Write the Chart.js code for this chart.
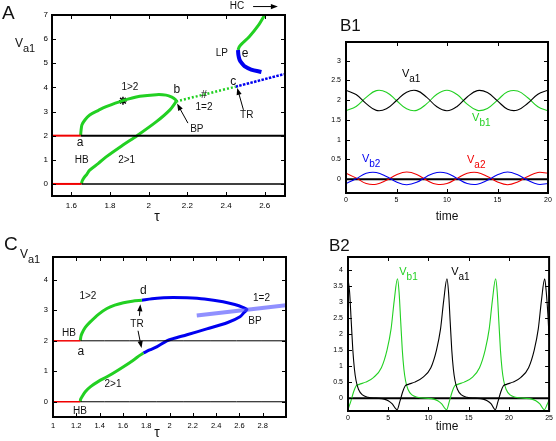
<!DOCTYPE html>
<html>
<head>
<meta charset="utf-8">
<script src="https://cdn.jsdelivr.net/npm/chart.js@4.4.1/dist/chart.umd.min.js"></script>
<style>
  body { margin: 0; background: #fff; }
  canvas { position: absolute; left: 0; top: 0; }
</style>
</head>
<body>
<canvas id="chartA" width="556" height="441"></canvas>
<canvas id="chartB1" width="556" height="441"></canvas>
<canvas id="chartC" width="556" height="441"></canvas>
<canvas id="chartB2" width="556" height="441"></canvas>
<script>
// ---- panel A : V_a1 vs tau ----
const aTicksX = [1.6, 1.8, 2, 2.2, 2.4, 2.6];
const aTicksY = [0, 1, 2, 3, 4, 5, 6, 7];
const aRedTop = [[1.5, 2], [1.648, 2]];
const aRedBottom = [[1.5, 0], [1.652, 0]];
const aBlackTop = [[1.648, 2], [2.7, 2]];
const aBlackBottom = [[1.652, 0], [2.7, 0]];
const aUpper = [[1.648, 2.0], [1.65, 2.2], [1.655, 2.45], [1.67, 2.65], [1.695, 2.86], [1.74, 3.05], [1.78, 3.2],
  [1.867, 3.45], [1.954, 3.63], [2.04, 3.70], [2.09, 3.68], [2.12, 3.6], [2.138, 3.5], [2.143, 3.42]];
const aLower = [[1.652, 0], [1.656, 0.12], [1.665, 0.25], [1.68, 0.4], [1.695, 0.57], [1.74, 0.85], [1.78, 1.12],
  [1.867, 1.61], [1.94, 2.0], [2.04, 2.58], [2.11, 3.07], [2.143, 3.42]];
const aSymDotted = [[2.143, 3.42], [2.45, 4.03]];
const aSymUnstable = [[2.45, 4.03], [2.7, 4.55]];
const aLPBlue = [[2.462, 5.55], [2.464, 5.35], [2.47, 5.15], [2.482, 5.0], [2.495, 4.88], [2.53, 4.74], [2.583, 4.64]];
const aLPGreen = [[2.462, 5.55], [2.47, 5.7], [2.487, 5.85], [2.52, 6.1], [2.57, 6.6], [2.6, 7.0]];
const aStar = [[1.867, 3.45]];

// ---- panel B1 : time series ----
const b1Time = [0, 1, 2, 3, 4, 5, 6, 7, 8, 9, 10, 11, 12, 13, 14, 15, 16, 17, 18, 19, 20];
const b1Va1 = [2.25, 2.14, 1.91, 1.74, 1.78, 1.99, 2.20, 2.24, 2.07, 1.83, 1.73, 1.84, 2.08, 2.24, 2.19, 1.98, 1.77, 1.75, 1.92, 2.15, 2.25];
const b1Vb1 = [1.73, 1.84, 2.07, 2.24, 2.20, 1.99, 1.78, 1.74, 1.91, 2.15, 2.25, 2.14, 1.90, 1.74, 1.79, 2.00, 2.21, 2.23, 2.06, 1.83, 1.73];
const b1Vb2 = [-0.11, 0.01, 0.15, 0.17, 0.07, -0.07, -0.14, -0.08, 0.07, 0.17, 0.15, 0.02, -0.11, -0.13, -0.03, 0.11, 0.18, 0.11, -0.03, -0.13, -0.11];
const b1Va2 = [0.15, 0.03, -0.11, -0.13, -0.03, 0.11, 0.18, 0.12, -0.03, -0.13, -0.11, 0.02, 0.15, 0.17, 0.07, -0.07, -0.14, -0.07, 0.07, 0.17, 0.15];
const b1TicksX = [0, 5, 10, 15, 20];
const b1TicksY = [0, 0.5, 1, 1.5, 2, 2.5, 3];

// ---- panel C : V_a1 vs tau ----
const cTicksX = [1, 1.2, 1.4, 1.6, 1.8, 2, 2.2, 2.4, 2.6, 2.8];
const cTicksY = [0, 1, 2, 3, 4];
const cRedTop = [[1, 2], [1.234, 2]];
const cRedBottom = [[1, 0], [1.234, 0]];
const cBlackTop = [[1.234, 2], [3, 2]];
const cBlackBottom = [[1.234, 0], [3, 0]];
const cUpperGreen = [[1.234, 2.0], [1.24, 2.15], [1.248, 2.24], [1.277, 2.44], [1.32, 2.62], [1.39, 2.87], [1.463, 3.06],
  [1.53, 3.17], [1.605, 3.25], [1.68, 3.3], [1.763, 3.33]];
const cLowerGreen = [[1.234, 0], [1.237, 0.08], [1.248, 0.16], [1.277, 0.33], [1.32, 0.49], [1.39, 0.67], [1.463, 0.82],
  [1.53, 0.97], [1.605, 1.15], [1.68, 1.34], [1.748, 1.53], [1.776, 1.6]];
const cBlueLoop = [[1.763, 3.33], [1.85, 3.38], [1.95, 3.41], [2.03, 3.42], [2.15, 3.41], [2.3, 3.37], [2.46, 3.28],
  [2.56, 3.19], [2.63, 3.1], [2.665, 3.03], [2.64, 2.93], [2.605, 2.79], [2.5, 2.6], [2.32, 2.39], [2.15, 2.2],
  [2.03, 2.07], [1.977, 2.0], [1.89, 1.8], [1.83, 1.7], [1.776, 1.6]];
const cSymBranch = [[2.234, 2.83], [2.665, 3.02], [3.0, 3.17]];

// ---- panel B2 : time series ----
const b2TimeA = [0, 0.2, 0.4, 0.6, 0.8, 1.0, 1.3, 1.8, 2.5, 3.5, 4.5, 5.0, 5.5, 6.1, 6.45, 6.8, 7.1, 7.5, 8.3, 9.3, 10.3,
  11.0, 11.5, 11.9, 12.3, 12.5, 12.7, 12.9, 13.1, 13.3, 13.6, 14.1, 14.8, 15.8, 16.8, 17.3, 17.8, 18.3, 18.65, 19.0,
  19.3, 19.7, 20.5, 21.5, 22.45, 23.15, 23.65, 24.05, 24.45, 24.65, 24.85, 25];
const b2Va1 = [3.72, 3.3, 2.4, 1.5, 0.9, 0.55, 0.28, 0.1, 0.03, 0.0, -0.03, -0.08, -0.18, -0.36, -0.1, 0.2, 0.38, 0.43, 0.5, 0.65, 0.95,
  1.5, 2.15, 3.05, 3.72, 3.3, 2.4, 1.5, 0.9, 0.55, 0.28, 0.1, 0.03, 0.0, -0.03, -0.08, -0.18, -0.36, -0.1, 0.2,
  0.38, 0.43, 0.5, 0.65, 0.95, 1.5, 2.15, 3.05, 3.72, 3.3, 2.6, 1.9];
const b2TimeB = [0, 0.35, 0.7, 1.0, 1.4, 2.2, 3.2, 4.15, 4.85, 5.35, 5.75, 6.15, 6.35, 6.55, 6.75, 6.95, 7.15, 7.45, 7.95,
  8.65, 9.65, 10.65, 11.15, 11.65, 12.25, 12.6, 12.95, 13.25, 13.65, 14.45, 15.45, 16.35, 17.05, 17.55, 17.95, 18.35,
  18.55, 18.75, 18.95, 19.15, 19.35, 19.65, 20.15, 20.85, 21.85, 22.85, 23.35, 23.85, 24.4, 24.75, 25];
const b2Vb1 = [-0.35, -0.1, 0.2, 0.38, 0.43, 0.5, 0.65, 0.95, 1.5, 2.15, 3.05, 3.72, 3.3, 2.4, 1.5, 0.9, 0.55, 0.28, 0.1,
  0.03, 0.0, -0.03, -0.08, -0.18, -0.36, -0.1, 0.2, 0.38, 0.43, 0.5, 0.65, 0.95, 1.5, 2.15, 3.05, 3.72,
  3.3, 2.4, 1.5, 0.9, 0.55, 0.28, 0.1, 0.03, 0.0, -0.03, -0.08, -0.18, -0.36, -0.2, -0.05];
const b2TicksX = [0, 5, 10, 15, 20, 25];
const b2TicksY = [0, 0.5, 1, 1.5, 2, 2.5, 3, 3.5, 4];

const FONT = '"Liberation Sans", Arial, sans-serif';
const GREEN = '#22d022';
const BLUE = '#0000f0';
const RED = '#f00000';
const AXW = 40;   // fixed y-axis box width
const AXH = 20;   // fixed x-axis box height

function pts(a) { return a.map(p => ({ x: p[0], y: p[1] })); }
function zip(xs, ys) { return xs.map((x, i) => ({ x: x, y: ys[i] })); }
function fmt(v) { return String(Math.round(v * 100) / 100); }

function line(data, color, width, extra) {
  return Object.assign({ data: data, borderColor: color, backgroundColor: color, borderWidth: width,
    showLine: true, pointRadius: 0, tension: 0.3 }, extra || {});
}

function axis(min, max, ticks, size, pad, horiz) {
  return {
    type: 'linear', min: min, max: max,
    afterFit: s => { if (horiz) s.height = AXH; else s.width = AXW; },
    afterBuildTicks: s => { s.ticks = ticks.map(v => ({ value: v })); },
    grid: { display: false, drawTicks: false },
    border: { display: false },
    ticks: { font: { family: FONT, size: size }, color: '#000', padding: pad, maxRotation: 0,
      autoSkip: false, callback: v => fmt(v) }
  };
}

// chart area given as page pixels -> layout padding around fixed-size axes
function area(l, t, r, b) {
  return { left: l - AXW, top: t, right: 556 - r, bottom: 441 - b - AXH };
}

function drawText(ctx, x, y, o) {
  ctx.fillStyle = o.c || '#111';
  ctx.font = (o.f || 10) + 'px ' + FONT;
  if (o.sub) {
    ctx.textAlign = 'left';
    ctx.textBaseline = 'alphabetic';
    ctx.fillText(o.t, x, y);
    const w = ctx.measureText(o.t).width;
    ctx.font = (o.sf || (o.f || 10) - 1) + 'px ' + FONT;
    ctx.fillText(o.sub, x + w, y + (o.dy || 5));
  } else {
    ctx.textAlign = o.al || 'center';
    ctx.textBaseline = o.bl || 'middle';
    ctx.fillText(o.t, x, y);
  }
}

function arrow(ctx, x1, y1, x2, y2) {
  const ang = Math.atan2(y2 - y1, x2 - x1), L = 7, W = 2.6;
  ctx.strokeStyle = '#000';
  ctx.fillStyle = '#000';
  ctx.lineWidth = 1;
  ctx.beginPath();
  ctx.moveTo(x1, y1);
  ctx.lineTo(x2 - Math.cos(ang) * L * 0.8, y2 - Math.sin(ang) * L * 0.8);
  ctx.stroke();
  ctx.beginPath();
  ctx.moveTo(x2, y2);
  ctx.lineTo(x2 - Math.cos(ang) * L + Math.sin(ang) * W, y2 - Math.sin(ang) * L - Math.cos(ang) * W);
  ctx.lineTo(x2 - Math.cos(ang) * L - Math.sin(ang) * W, y2 - Math.sin(ang) * L + Math.cos(ang) * W);
  ctx.closePath();
  ctx.fill();
}

// frame with inward ticks, notes in data coords, titles in page pixels
function decor(cfg) {
  return {
    id: 'decor',
    afterDraw(chart) {
      const ctx = chart.ctx, a = chart.chartArea, sx = chart.scales.x, sy = chart.scales.y;
      ctx.save();
      ctx.strokeStyle = '#000';
      ctx.lineWidth = 1;
      ctx.beginPath();
      sx.ticks.forEach(t => {
        const p = Math.round(sx.getPixelForValue(t.value)) + 0.5;
        ctx.moveTo(p, a.bottom); ctx.lineTo(p, a.bottom - 4);
        ctx.moveTo(p, a.top); ctx.lineTo(p, a.top + 4);
      });
      sy.ticks.forEach(t => {
        const p = Math.round(sy.getPixelForValue(t.value)) + 0.5;
        ctx.moveTo(a.left, p); ctx.lineTo(a.left + 4, p);
        ctx.moveTo(a.right, p); ctx.lineTo(a.right - 4, p);
      });
      ctx.stroke();
      ctx.lineWidth = cfg.frame || 2;
      ctx.strokeRect(a.left, a.top, a.right - a.left, a.bottom - a.top);
      (cfg.arrows || []).forEach(r => arrow(ctx, sx.getPixelForValue(r[0]), sy.getPixelForValue(r[1]),
        sx.getPixelForValue(r[2]), sy.getPixelForValue(r[3])));
      (cfg.notes || []).forEach(o => drawText(ctx, sx.getPixelForValue(o.x), sy.getPixelForValue(o.y), o));
      (cfg.titles || []).forEach(o => drawText(ctx, o.px, o.py, o));
      ctx.restore();
    }
  };
}

function panel(id, pad, xs, ys, datasets, deco) {
  return new Chart(document.getElementById(id), {
    type: 'scatter',
    data: { datasets: datasets },
    options: {
      responsive: false, animation: false, devicePixelRatio: 1, events: [],
      layout: { padding: pad, autoPadding: false },
      elements: { point: { radius: 0 } },
      plugins: { legend: { display: false }, tooltip: { enabled: false } },
      scales: { x: xs, y: ys }
    },
    plugins: [decor(deco)]
  });
}

Chart.defaults.font.family = FONT;

panel('chartA', area(52, 15, 285, 196),
  axis(1.5, 2.705, aTicksX, 8, 5, true), axis(-0.5, 7, aTicksY, 8, 4, false), [
    line(pts(aRedTop), RED, 2),
    line(pts(aRedBottom), RED, 2),
    line(pts(aBlackTop), '#000', 2),
    line(pts(aBlackBottom), '#000', 1.5),
    line(pts(aUpper), GREEN, 3),
    line(pts(aLower), GREEN, 3),
    line(pts(aSymDotted), GREEN, 2.5, { borderDash: [2, 2] }),
    line(pts(aSymUnstable), BLUE, 2.5, { borderDash: [2.5, 1.3] }),
    line(pts(aLPBlue), BLUE, 4),
    line(pts(aLPGreen), GREEN, 3),
    { data: pts(aStar), showLine: false, pointStyle: 'star', pointRadius: 4, borderColor: '#000', borderWidth: 1.5 }
  ], {
    frame: 2,
    arrows: [[2.203, 2.52, 2.147, 3.33], [2.49, 3.07, 2.458, 3.98], [2.54, 7.35, 2.668, 7.35]],
    notes: [
      { x: 2.457, y: 7.35, t: 'HC' }, { x: 2.378, y: 5.4, t: 'LP' }, { x: 2.498, y: 5.4, t: 'e', f: 12 },
      { x: 2.438, y: 4.25, t: 'c', f: 12 }, { x: 2.145, y: 3.9, t: 'b', f: 12 }, { x: 2.286, y: 3.7, t: '#', f: 11 },
      { x: 1.903, y: 4.02, t: '1>2' }, { x: 2.286, y: 3.16, t: '1=2' }, { x: 2.249, y: 2.28, t: 'BP' },
      { x: 2.507, y: 2.83, t: 'TR' }, { x: 1.645, y: 1.7, t: 'a', f: 12 }, { x: 1.654, y: 1.0, t: 'HB' },
      { x: 1.886, y: 0.97, t: '2>1' }
    ],
    titles: [
      { px: 2, py: 18.5, t: 'A', f: 19, al: 'left', bl: 'alphabetic' },
      { px: 15, py: 47, t: 'V', sub: 'a1', f: 12, sf: 11, dy: 5 },
      { px: 157, py: 221, t: '\u03c4', f: 14, bl: 'alphabetic' }
    ]
  });

panel('chartB1', area(346, 42, 548, 193),
  axis(0, 20, b1TicksX, 7, 3, true), axis(-0.35, 3.47, b1TicksY, 7, 5, false), [
    line(zip(b1Time, b1Va1), '#000', 1.1, { tension: 0.4 }),
    line(zip(b1Time, b1Vb1), GREEN, 1.1, { tension: 0.4 }),
    line(zip(b1Time, b1Vb2), BLUE, 1.1, { tension: 0.4 }),
    line(zip(b1Time, b1Va2), RED, 1.1, { tension: 0.4 }),
    line(pts([[0, 0], [20, 0]]), '#000', 2)
  ], {
    frame: 2,
    notes: [
      { x: 5.54, y: 2.58, t: 'V', sub: 'a1', f: 11, sf: 10, c: '#000' },
      { x: 12.48, y: 1.48, t: 'V', sub: 'b1', f: 11, sf: 10, c: GREEN },
      { x: 1.58, y: 0.44, t: 'V', sub: 'b2', f: 11, sf: 10, c: BLUE },
      { x: 11.98, y: 0.405, t: 'V', sub: 'a2', f: 11, sf: 10, c: RED }
    ],
    titles: [
      { px: 340, py: 31, t: 'B1', f: 17, al: 'left', bl: 'alphabetic' },
      { px: 447, py: 220, t: 'time', f: 12, bl: 'alphabetic' }
    ]
  });

panel('chartC', area(53, 257, 286, 417),
  axis(1, 3, cTicksX, 7.5, 4, true), axis(-0.5, 4.75, cTicksY, 7.5, 5, false), [
    line(pts(cRedTop), RED, 1.5),
    line(pts(cRedBottom), RED, 1.5),
    line(pts(cBlackTop), '#000', 1),
    line(pts(cBlackBottom), '#000', 1),
    line(pts(cSymBranch), 'rgba(70,70,255,0.6)', 4, { tension: 0 }),
    line(pts(cUpperGreen), GREEN, 3),
    line(pts(cLowerGreen), GREEN, 3),
    line(pts(cBlueLoop), BLUE, 3)
  ], {
    frame: 2,
    arrows: [[1.742, 2.82, 1.75, 3.2], [1.73, 2.33, 1.76, 1.76]],
    notes: [
      { x: 1.3, y: 3.45, t: '1>2' }, { x: 1.775, y: 3.63, t: 'd', f: 12 }, { x: 1.721, y: 2.55, t: 'TR' },
      { x: 1.137, y: 2.26, t: 'HB' }, { x: 1.238, y: 1.64, t: 'a', f: 12 }, { x: 1.515, y: 0.58, t: '2>1' },
      { x: 1.232, y: -0.3, t: 'HB' }, { x: 2.79, y: 3.41, t: '1=2' }, { x: 2.734, y: 2.65, t: 'BP' }
    ],
    titles: [
      { px: 4, py: 250, t: 'C', f: 19, al: 'left', bl: 'alphabetic' },
      { px: 20, py: 258, t: 'V', sub: 'a1', f: 12, sf: 11, dy: 5 },
      { px: 157, py: 437, t: '\u03c4', f: 14, bl: 'alphabetic' }
    ]
  });

panel('chartB2', area(348, 257, 550, 411),
  axis(0, 25, b2TicksX, 7, 3, true), axis(-0.4, 4.4, b2TicksY, 7, 5, false), [
    line(zip(b2TimeA, b2Va1), '#000', 1.1, { cubicInterpolationMode: 'monotone' }),
    line(zip(b2TimeB, b2Vb1), GREEN, 1.1, { cubicInterpolationMode: 'monotone' }),
    line(pts([[0, 0], [25, 0]]), '#000', 2)
  ], {
    frame: 2,
    notes: [
      { x: 6.37, y: 3.83, t: 'V', sub: 'b1', f: 11, sf: 10, c: GREEN },
      { x: 12.83, y: 3.83, t: 'V', sub: 'a1', f: 11, sf: 10, c: '#000' }
    ],
    titles: [
      { px: 329, py: 251, t: 'B2', f: 17, al: 'left', bl: 'alphabetic' },
      { px: 447, py: 430, t: 'time', f: 12, bl: 'alphabetic' }
    ]
  });
</script>
</body>
</html>
